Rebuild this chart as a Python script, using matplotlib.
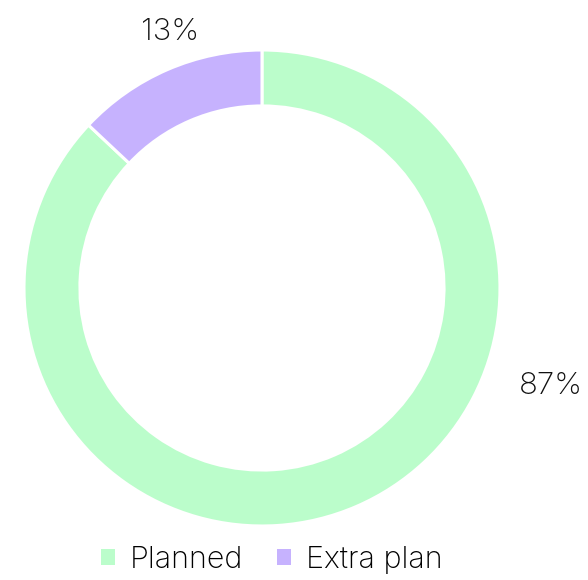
import matplotlib
matplotlib.use("Agg")
import matplotlib.pyplot as plt
from matplotlib.patches import Patch

categories = ["Planned", "Extra plan"]
values = [87, 13]
labels = ["87%", "13%"]
colors = ["#BBFDCB", "#C6B2FE"]

plt.rcParams['font.family'] = ['Inter', 'DejaVu Sans']

fig = plt.figure(figsize=(5.88, 5.80), dpi=100)
ax = fig.add_axes([0.0408, 0.0931, 0.8095, 0.8207])
ax.pie(values, colors=colors, startangle=90, counterclock=False,
       wedgeprops=dict(width=0.235, edgecolor="white", linewidth=2.2))
ax.set_xlim(-1, 1)
ax.set_ylim(-1, 1)
ax.set_aspect('equal')

label_pos = [(1.215, -0.41), (-0.385, 1.075)]
for (x, y), t in zip(label_pos, labels):
    ax.text(x, y, t, ha='center', va='center', fontsize=22.5, color='#111111',
            fontweight='light', clip_on=False)

handles = [Patch(facecolor=c, edgecolor='none', label=n) for c, n in zip(colors, categories)]
fig.legend(handles=handles, loc='center', bbox_to_anchor=(272/588, 1 - 560/580), ncol=2,
           frameon=False, prop=dict(size=22, weight='light'), handlelength=0.45, handleheight=0.45,
           handletextpad=0.5, columnspacing=1.1)

fig.savefig("out.png", dpi=100)
